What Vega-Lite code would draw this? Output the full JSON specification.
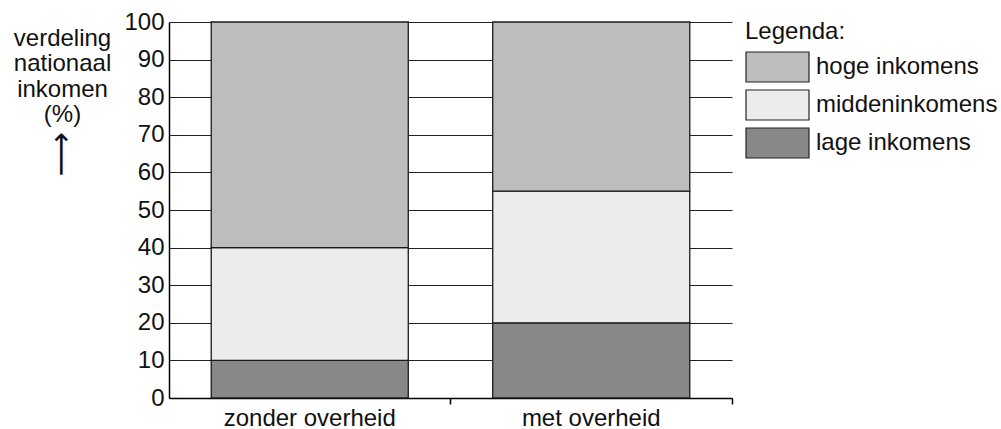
{
  "$schema": "https://vega.github.io/schema/vega-lite/v6.json",
  "width": 563,
  "height": 376,
  "autosize": "none",
  "padding": {"left": 169, "top": 22, "right": 269, "bottom": 31},
  "background": "white",
  "config": {
    "view": {"stroke": null},
    "font": "'Liberation Sans', 'DejaVu Sans', sans-serif"
  },
  "title": {
    "text": "⟶",
    "orient": "top",
    "anchor": "start",
    "frame": "group",
    "angle": -90,
    "align": "left",
    "baseline": "middle",
    "font": "DejaVu Sans",
    "fontSize": 31,
    "fontWeight": "normal",
    "color": "#111",
    "dx": -215,
    "dy": -107
  },
  "data": {
    "values": [
      {"situatie": "zonder overheid", "groep": "lage inkomens", "aandeel": 10, "volgorde": 1},
      {"situatie": "zonder overheid", "groep": "middeninkomens", "aandeel": 30, "volgorde": 2},
      {"situatie": "zonder overheid", "groep": "hoge inkomens", "aandeel": 60, "volgorde": 3},
      {"situatie": "met overheid", "groep": "lage inkomens", "aandeel": 20, "volgorde": 1},
      {"situatie": "met overheid", "groep": "middeninkomens", "aandeel": 35, "volgorde": 2},
      {"situatie": "met overheid", "groep": "hoge inkomens", "aandeel": 45, "volgorde": 3}
    ]
  },
  "mark": {"type": "bar", "width": {"band": 0.7}, "stroke": "#1a1a1a", "strokeWidth": 1.3},
  "encoding": {
    "x": {
      "field": "situatie",
      "type": "nominal",
      "sort": ["zonder overheid", "met overheid"],
      "scale": {"paddingInner": 0, "paddingOuter": 0},
      "axis": {
        "title": null,
        "labelAngle": 0,
        "bandPosition": 1,
        "ticks": true,
        "tickColor": "#000",
        "tickSize": 6,
        "tickWidth": 1.5,
        "domainColor": "#000",
        "domainWidth": 1.5,
        "labelFontSize": 24,
        "labelColor": "#111",
        "labelPadding": 2,
        "grid": false
      }
    },
    "y": {
      "field": "aandeel",
      "type": "quantitative",
      "stack": "zero",
      "scale": {"domain": [0, 100], "nice": false},
      "axis": {
        "values": [0, 10, 20, 30, 40, 50, 60, 70, 80, 90, 100],
        "grid": true,
        "gridColor": "#222",
        "gridWidth": 1,
        "gridOpacity": 1,
        "ticks": false,
        "domainColor": "#000",
        "domainWidth": 1.5,
        "labelFontSize": 24,
        "labelColor": "#111",
        "labelPadding": 5,
        "title": ["verdeling", "nationaal", "inkomen", "(%)"],
        "titleAngle": 0,
        "titleAlign": "center",
        "titleBaseline": "alphabetic",
        "titleX": -107,
        "titleY": 23,
        "titleLineHeight": 25.5,
        "titleFontSize": 24,
        "titleFontWeight": "normal",
        "titleColor": "#111"
      }
    },
    "color": {
      "field": "groep",
      "type": "nominal",
      "scale": {
        "domain": ["hoge inkomens", "middeninkomens", "lage inkomens"],
        "range": ["#bdbdbd", "#ececec", "#888888"]
      },
      "legend": {
        "title": "Legenda:",
        "orient": "none",
        "legendX": 576,
        "legendY": -2,
        "titleFontSize": 24,
        "titleFontWeight": "normal",
        "titleColor": "#111",
        "titlePadding": 7,
        "labelFontSize": 24,
        "labelColor": "#111",
        "labelLimit": 400,
        "symbolType": "M-1,-1H3.2V1H-1Z",
        "symbolSize": 900,
        "symbolStrokeColor": "#222",
        "symbolStrokeWidth": 1.2,
        "symbolOpacity": 1,
        "rowPadding": 2,
        "labelOffset": 39
      }
    },
    "order": {"field": "volgorde"}
  }
}
